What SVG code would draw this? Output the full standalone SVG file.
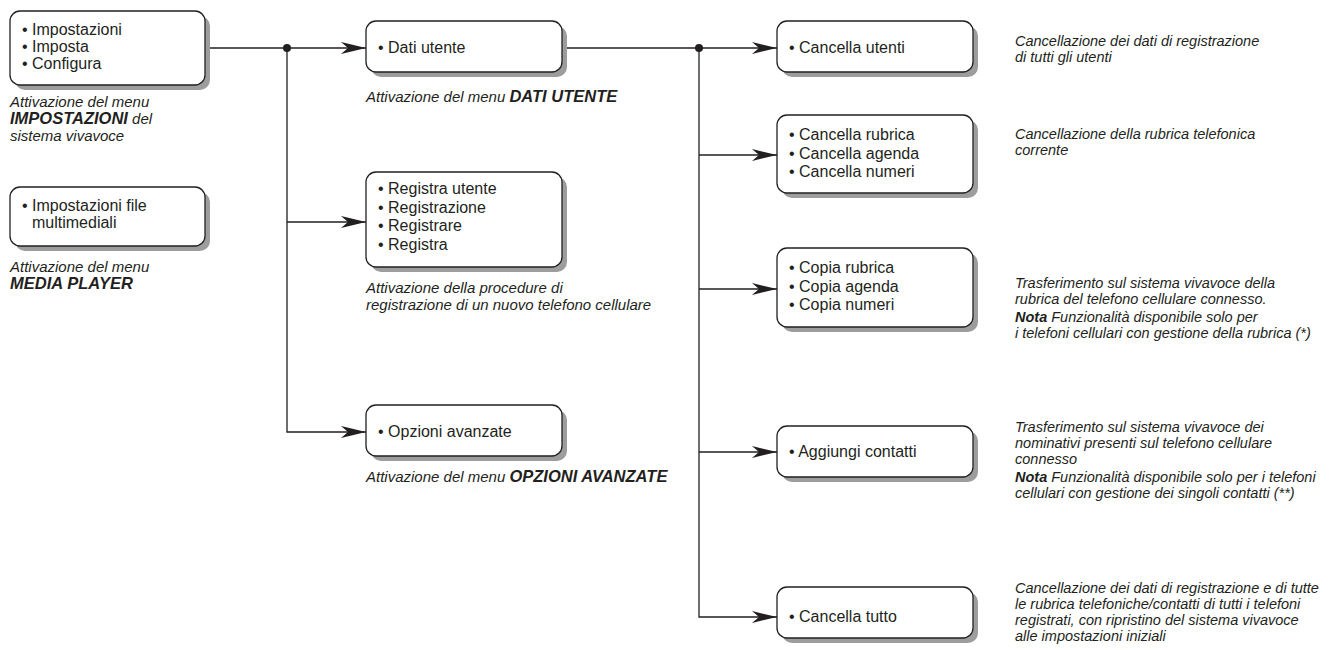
<svg xmlns="http://www.w3.org/2000/svg" width="1331" height="650" viewBox="0 0 1331 650">
<style>
.box{fill:#fff;stroke:#231f20;stroke-width:1.3}
.sh{fill:#9d9d9d}
.nt{font-family:"Liberation Sans",Arial,sans-serif;font-size:16px;fill:#231f20}
.cap{font-family:"Liberation Sans",Arial,sans-serif;font-size:15px;font-style:italic;fill:#231f20}
.desc{font-family:"Liberation Sans",Arial,sans-serif;font-size:14.5px;font-style:italic;fill:#231f20}
.b{font-weight:bold}
.cap .b{font-size:16.5px}
.ln{fill:none;stroke:#231f20;stroke-width:1.3}
.dot{fill:#231f20}
</style>
<defs>
<marker id="arr" markerUnits="userSpaceOnUse" markerWidth="28" markerHeight="14" refX="25" refY="6" orient="auto">
<path d="M0,0 L25,6 L0,12 L7,6 Z" fill="#231f20"/>
</marker>
</defs>
<g id="connectors">
<path class="ln" d="M205,48 H366" marker-end="url(#arr)"/>
<path class="ln" d="M287,48 V432 H366" marker-end="url(#arr)"/>
<path class="ln" d="M287,222 H366" marker-end="url(#arr)"/>
<path class="ln" d="M562,48 H777" marker-end="url(#arr)"/>
<path class="ln" d="M699,48 V617 H777" marker-end="url(#arr)"/>
<path class="ln" d="M699,155 H777" marker-end="url(#arr)"/>
<path class="ln" d="M699,289 H777" marker-end="url(#arr)"/>
<path class="ln" d="M699,452 H777" marker-end="url(#arr)"/>
<circle class="dot" cx="287" cy="48" r="4"/>
<circle class="dot" cx="699" cy="48" r="4"/>
</g>
<g id="n-impostazioni">
<rect class="sh" x="15" y="16" width="195" height="74" rx="10"/>
<rect class="box" x="10" y="11" width="195" height="74" rx="10"/>
<text class="nt" x="22" y="35"><tspan x="22">• Impostazioni</tspan><tspan x="22" dy="17">• Imposta</tspan><tspan x="22" dy="17">• Configura</tspan></text>
<text class="cap" x="10" y="107"><tspan x="10">Attivazione del menu</tspan><tspan x="10" dy="17"><tspan class="b">IMPOSTAZIONI</tspan> del</tspan><tspan x="10" dy="17">sistema vivavoce</tspan></text>
</g>
<g id="n-media">
<rect class="sh" x="15" y="192" width="195" height="59" rx="10"/>
<rect class="box" x="10" y="187" width="195" height="59" rx="10"/>
<text class="nt" x="22" y="211"><tspan x="22">• Impostazioni file</tspan><tspan x="32" dy="17">multimediali</tspan></text>
<text class="cap" x="10" y="272"><tspan x="10">Attivazione del menu</tspan><tspan x="10" dy="17" class="b">MEDIA PLAYER</tspan></text>
</g>
<g id="n-dati">
<rect class="sh" x="371" y="26" width="196" height="51" rx="10"/>
<rect class="box" x="366" y="21" width="196" height="51" rx="10"/>
<text class="nt" x="378" y="53">• Dati utente</text>
<text class="cap" x="366" y="102">Attivazione del menu <tspan class="b">DATI UTENTE</tspan></text>
</g>
<g id="n-registra">
<rect class="sh" x="371" y="177" width="196" height="95" rx="10"/>
<rect class="box" x="366" y="172" width="196" height="95" rx="10"/>
<text class="nt" x="378" y="194"><tspan x="378">• Registra utente</tspan><tspan x="378" dy="18.5">• Registrazione</tspan><tspan x="378" dy="18.5">• Registrare</tspan><tspan x="378" dy="18.5">• Registra</tspan></text>
<text class="cap" x="366" y="293"><tspan x="366">Attivazione della procedure di</tspan><tspan x="366" dy="17">registrazione di un nuovo telefono cellulare</tspan></text>
</g>
<g id="n-opzioni">
<rect class="sh" x="371" y="410" width="196" height="51" rx="10"/>
<rect class="box" x="366" y="405" width="196" height="51" rx="10"/>
<text class="nt" x="378" y="437">• Opzioni avanzate</text>
<text class="cap" x="366" y="482">Attivazione del menu <tspan class="b">OPZIONI AVANZATE</tspan></text>
</g>
<g id="n-cancella-utenti">
<rect class="sh" x="782" y="26" width="196" height="51" rx="10"/>
<rect class="box" x="777" y="21" width="196" height="51" rx="10"/>
<text class="nt" x="789" y="53">• Cancella utenti</text>
<text class="desc" x="1015" y="46"><tspan x="1015">Cancellazione dei dati di registrazione</tspan><tspan x="1015" dy="16">di tutti gli utenti</tspan></text>
</g>
<g id="n-cancella-rubrica">
<rect class="sh" x="782" y="120" width="196" height="78" rx="10"/>
<rect class="box" x="777" y="115" width="196" height="78" rx="10"/>
<text class="nt" x="789" y="140"><tspan x="789">• Cancella rubrica</tspan><tspan x="789" dy="18.5">• Cancella agenda</tspan><tspan x="789" dy="18.5">• Cancella numeri</tspan></text>
<text class="desc" x="1015" y="139"><tspan x="1015">Cancellazione della rubrica telefonica</tspan><tspan x="1015" dy="16">corrente</tspan></text>
</g>
<g id="n-copia">
<rect class="sh" x="782" y="253" width="196" height="79" rx="10"/>
<rect class="box" x="777" y="248" width="196" height="79" rx="10"/>
<text class="nt" x="789" y="273"><tspan x="789">• Copia rubrica</tspan><tspan x="789" dy="18.5">• Copia agenda</tspan><tspan x="789" dy="18.5">• Copia numeri</tspan></text>
<text class="desc" x="1015" y="288"><tspan x="1015">Trasferimento sul sistema vivavoce della</tspan><tspan x="1015" dy="16">rubrica del telefono cellulare connesso.</tspan><tspan x="1015" dy="18"><tspan class="b">Nota</tspan> Funzionalità disponibile solo per</tspan><tspan x="1015" dy="16">i telefoni cellulari con gestione della rubrica (*)</tspan></text>
</g>
<g id="n-aggiungi">
<rect class="sh" x="782" y="431" width="196" height="51" rx="10"/>
<rect class="box" x="777" y="426" width="196" height="51" rx="10"/>
<text class="nt" x="789" y="457">• Aggiungi contatti</text>
<text class="desc" x="1015" y="432"><tspan x="1015">Trasferimento sul sistema vivavoce dei</tspan><tspan x="1015" dy="16">nominativi presenti sul telefono cellulare</tspan><tspan x="1015" dy="16">connesso</tspan><tspan x="1015" dy="18"><tspan class="b">Nota</tspan> Funzionalità disponibile solo per i telefoni</tspan><tspan x="1015" dy="16">cellulari con gestione dei singoli contatti (**)</tspan></text>
</g>
<g id="n-cancella-tutto">
<rect class="sh" x="782" y="592" width="196" height="51" rx="10"/>
<rect class="box" x="777" y="587" width="196" height="51" rx="10"/>
<text class="nt" x="789" y="622">• Cancella tutto</text>
<text class="desc" x="1015" y="593"><tspan x="1015">Cancellazione dei dati di registrazione e di tutte</tspan><tspan x="1015" dy="16">le rubrica telefoniche/contatti di tutti i telefoni</tspan><tspan x="1015" dy="16">registrati, con ripristino del sistema vivavoce</tspan><tspan x="1015" dy="16">alle impostazioni iniziali</tspan></text>
</g>
</svg>
